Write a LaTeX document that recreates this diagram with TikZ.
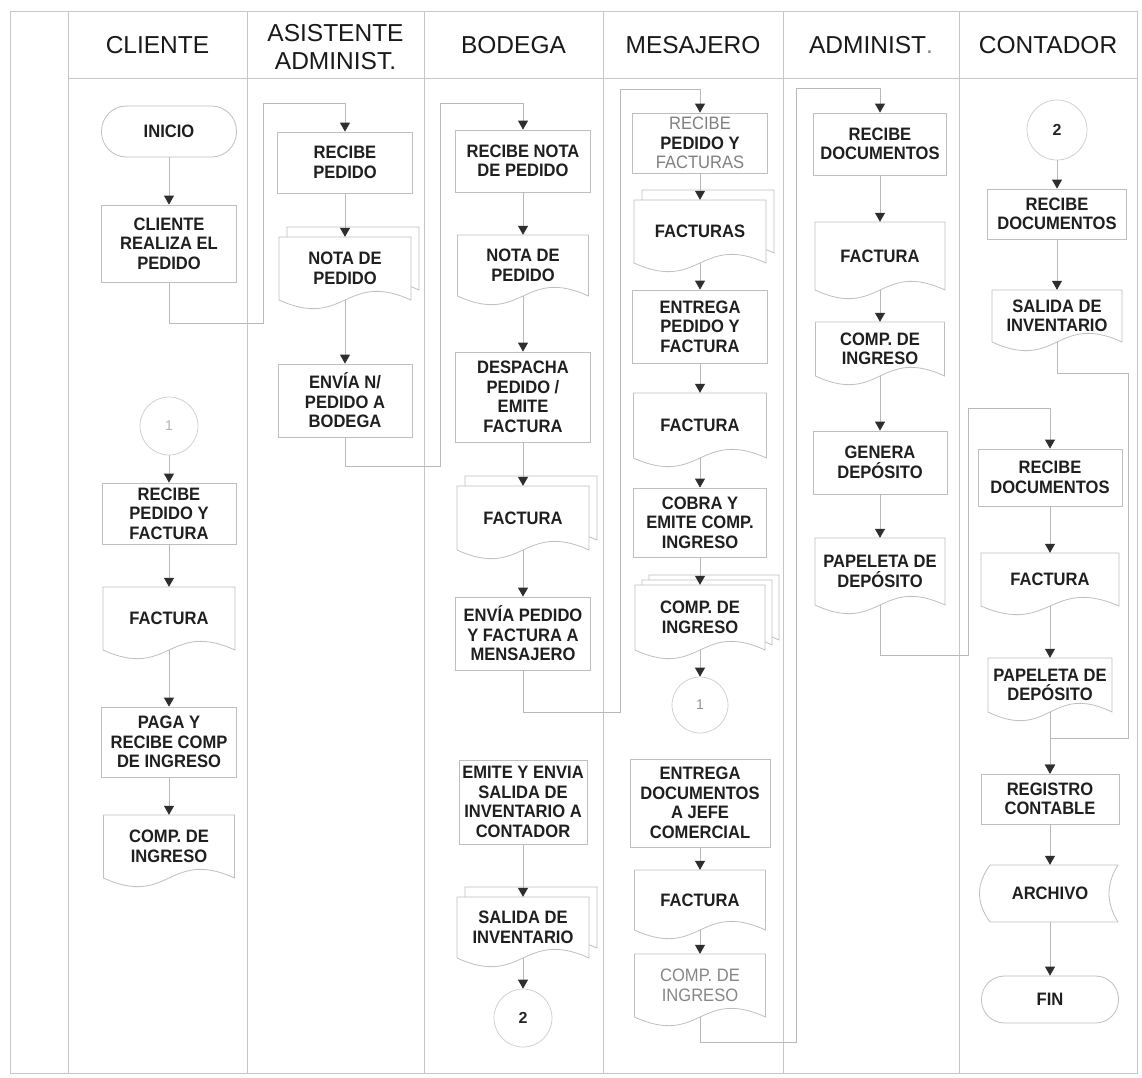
\documentclass[tikz,border=0pt]{standalone}
\usepackage{fontspec}
\setmainfont{Liberation Sans}
\newfontfamily\cndfam{Liberation Sans}[FakeStretch=0.92]
\usetikzlibrary{arrows.meta}

\newcommand{\bxfont}{\cndfam\bfseries\fontsize{18}{19.5}\selectfont}
\newcommand{\mdbxfont}{\cndfam\mdseries\fontsize{18}{19.5}\selectfont}
\newcommand{\hdfont}{\fontsize{24.5}{28}\selectfont}

\tikzset{
  lane/.style={draw=gray!45, line width=0.7pt},
  shp/.style={draw=gray!50, line width=0.8pt, fill=white},
  pbox/.style={shp, rectangle, inner sep=0pt, align=center, font=\bxfont, text=black!88},
  term/.style={pbox, rounded corners=#1},
  dtext/.style={rectangle, inner sep=0pt, align=center, font=\bxfont, text=black!88},
  greytext/.style={font=\mdbxfont, text=gray!95},
  conn/.style={circle, draw=gray!40, line width=0.7pt, fill=white, minimum size=#1, inner sep=0pt},
  flow/.style={draw=gray!55, line width=0.8pt, -{Triangle[width=10pt,length=9pt,color=black!82]}},
  head/.style={font=\hdfont, align=center, text=black!90},
}

% document symbol: centre x, top, wave base line, width
\newcommand{\docshape}[4]{%
  \path[shp] ({#1-#4/2},#2) -- ({#1+#4/2},#2) -- ({#1+#4/2},#3)
    .. controls (#1,{#3-30}) and (#1,{#3+30}) .. ({#1-#4/2},#3) -- cycle;}
% document with its text node: name, centre x, top, base, width, options, text
\newcommand{\docnode}[7]{%
  \docshape{#2}{#3}{#4}{#5}
  \node[dtext, #6, minimum width=#5pt, minimum height={#4-#3}] (#1) at (#2,{(#3+#4)/2}) {#7};}
% two stacked documents
\newcommand{\twodoc}[6]{%
  \docshape{#2+8}{#3-10}{#4-10}{#5}
  \docnode{#1}{#2}{#3}{#4}{#5}{}{#6}}
% three stacked documents
\newcommand{\threedoc}[6]{%
  \docshape{#2+14}{#3-10}{#4-10}{#5}
  \docshape{#2+7}{#3-5}{#4-5}{#5}
  \docnode{#1}{#2}{#3}{#4}{#5}{}{#6}}

\begin{document}
\begin{tikzpicture}[x=1pt, y=-1pt]
\useasboundingbox (0,0) rectangle (1142,1077);
\fill[white] (0,0) rectangle (1142,1077);

% ---- swimlane grid ----
\draw[lane] (10,11) rectangle (1137,1073);
\foreach \x in {68,247,424,603,783,959} \draw[lane] (\x,11) -- (\x,1073);
\draw[lane] (68,78) -- (1137,78);

\node[head] (hC) at (157.5,45) {CLIENTE};
\node[head] (hA) at (335.5,47) {ASISTENTE\\ADMINIST.};
\node[head] (hB) at (513.5,45) {BODEGA};
\node[head] (hM) at (693,45) {MESAJERO};
\node[head] (hD) at (871,45) {ADMINIST\textcolor{gray}{.}};
\node[head] (hK) at (1048,45) {CONTADOR};

% ---- CLIENTE ----
\node[term=25pt, minimum width=135pt, minimum height=51pt] (inicio) at (169,131.5) {INICIO};
\node[pbox, minimum width=135pt, minimum height=77pt] (realiza) at (169,243.5) {CLIENTE\\REALIZA EL\\PEDIDO};
\node[conn=58pt, font=\fontsize{14}{16}\selectfont, text=gray!60] (cuno) at (169,426) {1};
\node[pbox, minimum width=134pt, minimum height=61pt] (recpyf) at (169,513.5) {RECIBE\\PEDIDO Y\\FACTURA};
\docnode{factC}{169}{587}{650}{132}{}{FACTURA}
\node[pbox, minimum width=135pt, minimum height=70pt] (paga) at (169,742) {PAGA Y\\RECIBE COMP\\DE INGRESO};
\docnode{compC}{169}{815}{878}{131}{}{COMP. DE\\INGRESO}

% ---- ASISTENTE ADMINIST. ----
\node[pbox, minimum width=135pt, minimum height=61pt] (recped) at (345,162.5) {RECIBE\\PEDIDO};
\twodoc{notaA}{345}{237}{300}{132}{NOTA DE\\PEDIDO}
\node[pbox, minimum width=134pt, minimum height=73pt] (enviaN) at (345,400.5) {ENVÍA N/\\PEDIDO A\\BODEGA};

% ---- BODEGA ----
\node[pbox, minimum width=135pt, minimum height=62pt] (recnota) at (523,161) {RECIBE NOTA\\DE PEDIDO};
\docnode{notaB}{523}{235}{296}{131}{}{NOTA DE\\PEDIDO}
\node[pbox, minimum width=135pt, minimum height=90pt] (despacha) at (523,397) {DESPACHA\\PEDIDO /\\EMITE\\FACTURA};
\twodoc{factB}{523}{486}{550}{132}{FACTURA}
\node[pbox, minimum width=135pt, minimum height=73pt] (enviaP) at (523,633.5) {ENVÍA PEDIDO\\Y FACTURA A\\MENSAJERO};
\node[pbox, minimum width=128pt, minimum height=84pt] (emite) at (523,802) {EMITE Y ENVIA\\SALIDA DE\\INVENTARIO A\\CONTADOR};
\twodoc{salB}{523}{897}{958}{132}{SALIDA DE\\INVENTARIO}
\node[conn=58pt, font=\bfseries\fontsize{16}{18}\selectfont, text=black!85] (cdosB) at (523,1018) {2};

% ---- MESAJERO ----
\node[pbox, minimum width=135pt, minimum height=60pt] (recpf) at (700,143)
  {\textcolor{gray}{\mdseries RECIBE}\\PEDIDO Y\\\textcolor{gray}{\mdseries FACTURAS}};
\twodoc{factsM}{700}{200}{263}{132}{FACTURAS}
\node[pbox, minimum width=135pt, minimum height=73pt] (entrega) at (700,326.5) {ENTREGA\\PEDIDO Y\\FACTURA};
\docnode{factM}{700}{393}{458}{133}{}{FACTURA}
\node[pbox, minimum width=133pt, minimum height=69pt] (cobra) at (700,522.5) {COBRA Y\\EMITE COMP.\\INGRESO};
\threedoc{compM}{700}{585}{650}{130}{COMP. DE\\INGRESO}
\node[conn=56pt, font=\fontsize{14}{16}\selectfont, text=gray!85] (cunoM) at (700,705) {1};
\node[pbox, minimum width=140pt, minimum height=88pt] (entregaD) at (700,803) {ENTREGA\\DOCUMENTOS\\A JEFE\\COMERCIAL};
\docnode{factM2}{700}{870}{930}{131}{}{FACTURA}
\docnode{compG}{700}{954}{1017}{131}{greytext}{COMP. DE\\INGRESO}

% ---- ADMINIST. ----
\node[pbox, minimum width=133pt, minimum height=62pt] (recdocA) at (880,144) {RECIBE\\DOCUMENTOS};
\docnode{factA}{880}{222}{290}{130}{}{FACTURA}
\docnode{compA}{880}{322}{376}{129}{}{COMP. DE\\INGRESO}
\node[pbox, minimum width=134pt, minimum height=63pt] (genera) at (880,462.5) {GENERA\\DEPÓSITO};
\docnode{papA}{880}{538}{605}{130}{}{PAPELETA DE\\DEPÓSITO}

% ---- CONTADOR ----
\node[conn=60pt, font=\bfseries\fontsize{16}{18}\selectfont, text=black!85] (cdosK) at (1057,130) {2};
\node[pbox, minimum width=139pt, minimum height=50pt] (recdocK) at (1057,214) {RECIBE\\DOCUMENTOS};
\docnode{salK}{1057}{290}{342}{130}{}{SALIDA DE\\INVENTARIO}
\node[pbox, minimum width=144pt, minimum height=57pt] (recdocL) at (1050,477.5) {RECIBE\\DOCUMENTOS};
\docnode{factK}{1050}{553}{606}{138}{}{FACTURA}
\docnode{papK}{1050}{658}{712}{124}{}{PAPELETA DE\\DEPÓSITO}
\node[pbox, minimum width=138pt, minimum height=50pt] (registro) at (1050,799) {REGISTRO\\CONTABLE};
% stored data symbol
\path[shp] (990,865) -- (1118,865) .. controls (1106,884) and (1106,903) .. (1118,922)
  -- (990,922) .. controls (976,903) and (976,884) .. (990,865) -- cycle;
\node[dtext, minimum width=120pt, minimum height=57pt] (archivo) at (1050,893.5) {ARCHIVO};
\node[term=23pt, minimum width=137pt, minimum height=47pt] (fin) at (1050,999.5) {FIN};

% ---- flow inside the lanes ----
\draw[flow] (inicio) -- (realiza);
\draw[flow] (cuno) -- (recpyf);
\draw[flow] (recpyf) -- (factC);
\draw[flow] (factC) -- (paga);
\draw[flow] (paga) -- (compC);

\draw[flow] (recped) -- (notaA);
\draw[flow] (notaA) -- (enviaN);

\draw[flow] (recnota) -- (notaB);
\draw[flow] (notaB) -- (despacha);
\draw[flow] (despacha) -- (factB);
\draw[flow] (factB) -- (enviaP);
\draw[flow] (emite) -- (salB);
\draw[flow] (salB) -- (cdosB);

\draw[flow] (recpf) -- (factsM);
\draw[flow] (factsM) -- (entrega);
\draw[flow] (entrega) -- (factM);
\draw[flow] (factM) -- (cobra);
\draw[flow] (cobra) -- (compM);
\draw[flow] (compM) -- (cunoM);
\draw[flow] (entregaD) -- (factM2);
\draw[flow] (factM2) -- (compG);

\draw[flow] (recdocA) -- (factA);
\draw[flow] (factA) -- (compA);
\draw[flow] (compA) -- (genera);
\draw[flow] (genera) -- (papA);

\draw[flow] (cdosK) -- (recdocK);
\draw[flow] (recdocK) -- (salK);
\draw[flow] (recdocL) -- (factK);
\draw[flow] (factK) -- (papK);
\draw[flow] (papK) -- (registro);
\draw[flow] (registro) -- (archivo);
\draw[flow] (archivo) -- (fin);

% ---- flow between lanes ----
\coordinate (a1) at (263,323);  \coordinate (a2) at (263,103);
\coordinate (b1) at (440,466);  \coordinate (b2) at (440,103);
\coordinate (c1) at (620,712);  \coordinate (c2) at (620,89);
\coordinate (d1) at (796,1042); \coordinate (d2) at (796,88);
\coordinate (e1) at (968,655);  \coordinate (e2) at (968,408);
\coordinate (f1) at (1128,373); \coordinate (f2) at (1128,738);

\draw[flow] (realiza.south) |- (a1) -- (a2) -| (recped.north);
\draw[flow] (enviaN.south) |- (b1) -- (b2) -| (recnota.north);
\draw[flow] (enviaP.south) |- (c1) -- (c2) -| (recpf.north);
\draw[flow] (compG.south) |- (d1) -- (d2) -| (recdocA.north);
\draw[flow] (papA.south) |- (e1) -- (e2) -| (recdocL.north);
\draw[flow] (salK.south) |- (f1) -- (f2) -| (registro.north);
\end{tikzpicture}
\end{document}
